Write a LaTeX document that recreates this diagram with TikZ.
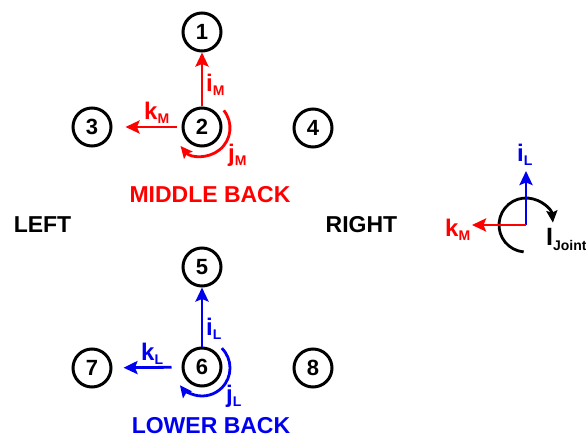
\documentclass[tikz,border=0pt]{standalone}
\usepackage{fontspec}
\setmainfont{Liberation Sans}
\usetikzlibrary{arrows.meta}
\definecolor{myred}{RGB}{255,0,0}
\definecolor{myblue}{RGB}{0,0,240}
\newcommand{\veclab}[3]{{\fontsize{#3}{#3}\selectfont #1}\raisebox{-4pt}{\fontsize{14}{14}\selectfont #2}}
\begin{document}
\begin{tikzpicture}[x=1pt,y=-1pt,
  num/.style={circle, draw, line width=3pt, minimum size=38pt, inner sep=0pt, font=\fontsize{22}{22}\selectfont\bfseries},
  vec/.style={line width=2.8pt, -{Stealth[length=14pt,width=13pt,inset=2.5pt]}},
  rot/.style={line width=2.8pt, -{Stealth[length=12pt,width=11pt,inset=2pt]}},
  big/.style={font=\fontsize{23}{23}\selectfont\bfseries, inner sep=0pt},
  lab/.style={font=\bfseries, inner sep=0pt, anchor=base west}]
\useasboundingbox (0,0) rectangle (586,438);
\fill[white] (0,0) rectangle (586,438);
% circles
\node[num] (c1) at (202,32) {1};
\node[num] (c2) at (202,127) {2};
\node[num] (c3) at (92,127) {3};
\node[num] (c4) at (313,128) {4};
\node[num] (c5) at (202,267) {5};
\node[num] (c6) at (202,367) {6};
\node[num] (c7) at (92,368) {7};
\node[num] (c8) at (313,368) {8};
% middle back
\draw[vec, myred] (c2) -- (c1);
\draw[vec, myred, shorten <=5pt, shorten >=13pt] (c2) -- (c3);
\coordinate (jm) at (202,128);
\draw[rot, myred] (jm) ++(-39:28) arc[start angle=-39, end angle=140, radius=28];
\node[lab, myred] (im) at (206,92) {\veclab{i}{M}{24}};
\node[lab, myred] (km) at (144,119.5) {\veclab{k}{M}{24}};
\node[lab, myred] (jml) at (228,162) {\veclab{j}{M}{24}};
\node[big, myred] (mb) at (210,195) {MIDDLE BACK};
% lower back
\draw[vec, myblue] (c6) -- (c5);
\draw[vec, myblue, shorten <=10pt, shorten >=11pt] (c6) -- (c7);
\coordinate (jl) at (202,368);
\draw[rot, myblue] (jl) ++(-45:28) arc[start angle=-45, end angle=142, radius=28];
\node[lab, myblue] (il) at (206,335) {\veclab{i}{L}{24}};
\node[lab, myblue] (kl) at (141,360) {\veclab{k}{L}{24}};
\node[lab, myblue] (jll) at (226,402) {\veclab{j}{L}{24}};
\node[big, myblue] (lb) at (211,426) {LOWER BACK};
% sides
\node[big] (left) at (42.5,225) {LEFT};
\node[big] (right) at (361.5,225) {RIGHT};
% joint frame
\coordinate (o) at (526,225);
\coordinate (ot) at (526,171);
\coordinate (ol) at (472,225);
\draw[rot, black] (o) ++(95:27) arc[start angle=95, end angle=355, radius=27];
\draw[vec, myblue] (o) -- (ot);
\draw[vec, myred] (o) -- (ol);
\node[lab, myblue] (il2) at (517,162) {\veclab{i}{L}{24}};
\node[lab, myred] (km2) at (445,237) {\veclab{k}{M}{24}};
\node[lab] (ij) at (546,246) {{\fontsize{25}{25}\selectfont I}\raisebox{-5pt}{\fontsize{14}{14}\selectfont Joint}};
\end{tikzpicture}
\end{document}
